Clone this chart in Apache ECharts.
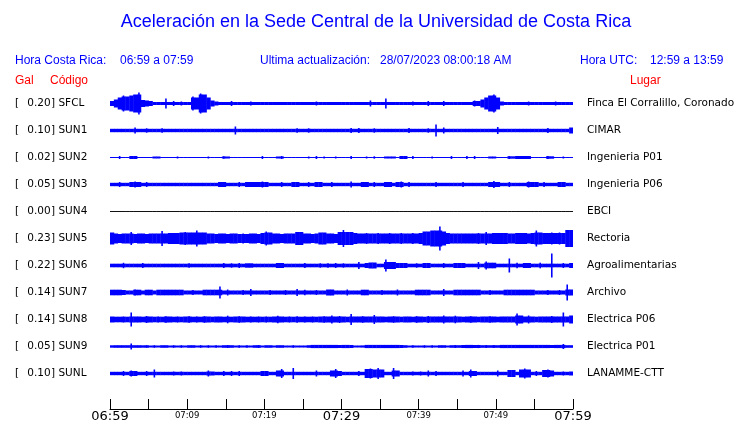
<!DOCTYPE html>
<html>
<head>
<meta charset="utf-8">
<script src="https://cdn.jsdelivr.net/npm/echarts@6/dist/echarts.min.js"></script>
<style>html,body{margin:0;padding:0;background:#fff}#c{width:740px;height:423px}</style>
</head>
<body>
<div id="c"></div>
<script>
// ---------- data ----------
const codes = ['SFCL','SUN1','SUN2','SUN3','SUN4','SUN5','SUN6','SUN7','SUN8','SUN9','SUNL'];
const galValues = ['0.20','0.10','0.02','0.05','0.00','0.23','0.22','0.14','0.14','0.05','0.10'];
const places = ['Finca El Corralillo, Coronado','CIMAR','Ingenieria P01','Ingenieria P06','EBCI','Rectoria','Agroalimentarias','Archivo','Electrica P06','Electrica P01','LANAMME-CTT'];
const tickLabels = ['06:59','','07:09','','07:19','','07:29','','07:39','','07:49','','07:59'];
const majorTicks = ['06:59','07:29','07:59'];

// envelope half-amplitudes, 120 bins of 30 s (06:59 -> 07:59)
const SFCL = [
2.5,4,6,8,7,8,9,11,3.5,3, 2.5,1.5,1.5,1.5,5,1.5,2.5,1.5,2,1.5,
1.5,7,6,10,9,6,3,2,1.5,1.5, 1.5,2.5,1.5,1.5,1.5,1.5,2,1.5,1.5,1.5,
1.5,1.5,1.5,1.5,1.5,1.5,1.5,1.5,1.5,1.5, 1.5,1.5,1.5,2,1.5,1.5,1.5,1.5,1.5,1.5,
1.5,1.5,1.5,1.5,1.5,1.5,1.5,3,1.5,1.5, 1.5,5,1.5,1.5,1.5,1.5,1.5,1.5,2,1.5,
1.5,1.5,2.5,1.5,1.5,1.5,2.5,1.5,1.5,1.5, 1.5,1.5,1.5,1.5,3,2.5,4,6,8,9,
6,2,1.5,1.5,1.5,1.5,1.5,1.5,2,1.5, 1.5,1.5,1.5,1.5,1.5,2,1.5,1.5,1.5,1.5];
const SUN1 = [
1.7,1.7,1.7,1.7,1.7,1.7,3,1.7,1.7,2.2, 1.7,1.7,1.7,2.2,1.7,1.7,1.7,1.7,1.7,1.7,
1.7,1.7,1.7,1.7,1.7,1.7,1.7,1.7,1.7,1.7, 1.7,1.7,4,1.7,1.7,1.7,1.7,1.7,1.7,1.7,
1.7,1.7,1.7,1.7,1.7,1.7,1.7,1.7,2.2,1.7, 1.7,2.2,1.7,1.7,1.7,1.7,1.7,1.7,1.7,1.7,
1.7,1.7,2.5,1.7,2.5,1.7,1.7,1.7,2.2,1.7, 1.7,1.7,1.7,1.7,1.7,1.7,1.7,2.5,1.7,1.7,
1.7,1.7,2.2,1.7,6,1.7,3,1.7,1.7,1.7, 1.7,1.7,1.7,1.7,1.7,1.7,1.7,1.7,1.7,1.7,
3.5,1.7,1.7,1.7,1.7,1.7,1.7,1.7,1.7,1.7, 1.7,1.7,1.7,2.5,1.7,1.7,1.7,1.7,1.7,3];
const SUN2 = [
.5,.5,1.5,.5,.5,1.5,1.5,.5,.5,.5, .5,1,1,.5,.5,.5,.5,1,.5,.5,
.5,.5,.5,.5,.5,1,.5,.5,.5,1.2, 1,.5,.5,.5,.5,.5,.5,.5,.5,1.5,
.5,.5,.5,1,1.5,.5,.5,.5,.5,.5, .5,1,.5,1.5,.5,1,.5,.5,1,.5,
.5,.5,1.5,.5,.5,.5,1,.5,1.2,.5, .5,1,1,1,.5,1.5,1.5,.5,1.5,.5,
.5,.5,.5,1,.5,.5,.5,.5,1.5,.5, .5,.5,1.5,.5,1.5,.5,.5,.5,1,1,
.5,.5,.5,1.5,1.2,1.5,1.5,1.5,1.5,.5, .5,.5,.5,1.5,1.2,.5,.5,1,.5,.5];
const SUN3 = [
1.7,1.7,2.5,1.7,1.7,2.5,3,2.5,1.7,2.5, 1.7,1.7,1.7,1.7,1.7,1.7,1.7,1.7,1.7,1.7,
1.7,1.7,1.7,1.7,1.7,1.7,1.7,1.7,2.5,2.5, 1.7,1.7,1.7,2.5,1.7,2.5,2.5,2.5,2.5,3,
2.5,1.7,1.7,1.7,2.5,1.7,1.7,2.5,2.5,1.7, 1.7,2.5,1.7,2.5,2.5,1.7,1.7,2.5,1.7,1.7,
1.7,1.7,3,1.7,1.7,2.5,2.5,1.7,2.5,1.7, 1.7,2.5,2.5,1.7,2.5,3,1.7,2.5,1.7,1.7,
1.7,1.7,1.7,1.7,2.5,1.7,1.7,1.7,1.7,1.7, 1.7,2.5,1.7,1.7,1.7,1.7,1.7,1.7,2.5,3.5,
2.5,1.7,1.7,2.5,1.7,1.7,1.7,1.7,3,2.5, 2.5,1.7,2.5,1.7,1.7,1.7,2.5,2.5,1.7,1.7];
const SUN4 = [
0,0,0,0,0,0,0,0,0,0, 0,0,0,0,0,0,0,0,0,0,
0,0,0,0,0,0,0,0,0,0, 0,0,0,0,0,0,0,0,0,0,
0,0,0,0,0,0,0,0,0,0, 0,0,0,0,0,0,0,0,0,0,
0,0,0,0,0,0,0,0,0,0, 0,0,0,0,0,0,0,0,0,0,
0,0,0,0,0,0,0,0,0,0, 0,0,0,0,0,0,0,0,0,0,
0,0,0,0,0,0,0,0,0,0, 0,0,0,0,0,0,0,0,0,0];
const SUN5 = [
6,5,4.5,5,5,6.5,4.5,5,5,4.5, 5,5,5,7.5,5,5.5,5.5,5.5,6,6.5,
6,6,8,6,6,5,5,4.5,5,5, 4.5,5,5,4.5,5,4.5,5,5,4.5,5.5,
7,6,5,5,4.5,5,5,5,6.5,6.5, 5,5,4.5,5,6,6,5,5,4.5,6.5,
8.5,6.5,6.5,5.5,5,5,5.5,5,5,5.5, 5,5,5.5,5,5,5.5,5,5,5.5,5,
5.5,7,7,8,8,12,7,5.5,5,5, 5,5,5,5,5,5.5,5,6.5,5,5.5,
5.5,5.5,5.5,5,5,5.5,5.5,5.5,5,5.5, 8,6,5.5,5.5,6,5.5,6,5.5,8.5,8.5];
const SUN6 = [
1.8,1.8,1.8,2.7,1.8,1.8,1.8,1.8,2.5,1.8, 1.8,1.8,1.8,1.8,1.8,1.8,1.8,1.8,1.8,1.8,
2.2,1.8,1.8,1.8,1.8,1.8,1.8,1.8,1.8,2.5, 1.8,2.2,1.8,2.5,1.8,2.2,2.2,1.8,1.8,1.8,
1.8,1.8,1.8,2.5,2.5,1.8,1.8,1.8,1.8,1.8, 2.5,1.8,1.8,1.8,2.2,1.8,2.2,1.8,2.5,1.8,
2.2,1.8,1.8,1.8,3.5,1.8,2.5,3,3,1.8, 1.8,6,3.5,3.5,2.5,2.5,2.5,1.8,1.8,2.2,
1.8,2.5,2.5,1.8,1.8,1.8,2.5,1.8,1.8,2.5, 2.5,2.5,1.8,1.8,1.8,3.5,1.8,4,2.8,2.8,
1.8,1.8,1.8,7,1.8,2.8,1.8,2.5,2.5,1.8, 1.8,2.8,1.8,1.8,12,1.8,1.8,2.5,1.8,2.5];
const SUN7 = [
2.8,2.8,2.8,2.5,2,2,3,2.8,2,2.8, 2.8,2,2.8,2.8,2.8,2.8,2.8,2.8,2.8,2,
2,2.5,2,2,2.8,2.8,2.8,2.8,6,2, 3,2,2,2,2.5,2,3.5,2,2,2,
2,2.5,2,2,2,2.5,2,2,3.5,2, 2.8,2,2,2.5,2,2,3,3,2,2,
2,3,2,2,2,2.8,2.8,2,2,2, 2.5,2,2,2,3,2,2,2,2,2.8,
2.8,2.8,2.8,2,2,2,3.5,2,2,2.8, 2.8,2.8,2.8,2.8,2.8,2.8,2,2,2.5,2,
2,2,2.8,2.8,2.8,2.8,2.8,2.8,2.8,2.8, 2,2,2,2.5,2,2,2.5,2,8,3];
const SUN8 = [
3,2.8,2.8,3,2.8,7,3,3,2.8,3.5, 3,2.8,3,2.8,3.3,3,2.8,3,2.8,3,
3.3,2.8,3,2.8,3.3,3,2.8,3,3,2.8, 3.8,2.8,3,3.3,3,2.8,3,2.8,3,2.8,
3,2.8,3,3.8,3,2.8,3,2.8,3.3,2.8, 3,2.8,3,2.8,3,3.3,3,4,3,3.5,
3,2.8,5.5,3,3,3.3,3,3,4.5,3, 3,2.8,3,3.3,3,2.8,3,3,2.8,3.3,
3,2.8,3.5,3,3,3,4,3,3,3.8, 3,2.8,3,3.3,3,2.8,3,3,3.3,3,
2.8,3,3,3,3,6,4,3,4,3, 2.8,3,3,3,3.5,3,3,7,3,4];
const SUN9 = [
1.2,1.3,1.3,1.3,1.3,3,1.3,1.3,1.2,1.3, 1,1.3,1,1.3,1.3,1,1.3,1,1.3,1,
1.3,1.3,1,1.3,1,1.3,1,1.3,1,1.3, 1.5,1.3,1,1.3,1,1.3,1,1.3,1.5,1,
1.3,1.3,1,1.3,1.3,1,1,1.3,1,1, 1,1.3,1.6,1.6,1.6,1.6,1.6,1.6,1.6,1.5,
1.6,1.6,1.5,1,1,1.1,1.6,1.6,1.6,1.6, 1.6,1.6,1.6,1.6,1.6,1.5,1.3,1,1.3,1,
1,1.3,1,1.3,1,1.3,1.3,1,1.3,1.5, 1.3,1.5,1.6,1.6,1.5,1.6,1.3,1.5,1.3,1.5,
1.3,1.6,1.6,1.6,1.6,1.6,1.6,1.6,1.6,1.6, 1.6,1.6,1.6,1.6,1.5,1.6,1.6,2.5,1.3,1.3];
const SUNL = [
1.7,1.7,1.7,2.5,1.7,3,2.5,1.7,1.7,2.5, 1.7,4,1.7,1.7,1.7,1.7,2,1.7,2,1.7,
1.7,1.7,1.7,1.7,1.7,3,2,1.7,1.7,2.5, 1.7,2.5,1.7,2.5,1.7,1.7,1.7,1.7,1.7,2.5,
2.5,1.7,1.7,3,4.5,1.7,1.7,5.5,1.7,1.7, 1.7,1.7,1.7,3,1.7,1.7,1.7,3,4.5,2.5,
1.7,1.7,1.7,1.7,2.5,1.7,4.5,5,4,5.5, 4,1.7,1.7,5.5,3,1.7,1.7,1.7,2,1.7,
2,1.7,3,1.7,2.5,1.7,1.7,1.7,1.7,1.7, 1.7,3,1.7,4,2.5,1.7,1.7,1.7,1.7,1.7,
3,1.7,1.7,3.5,3.5,1.7,4,5,4,1.7, 2.5,1.7,3.5,4,3,1.7,1.7,2,1.7,2];
const traces = [SFCL,SUN1,SUN2,SUN3,SUN4,SUN5,SUN6,SUN7,SUN8,SUN9,SUNL];

// ---------- chart ----------
const ROW = 27;          // y-axis units per station row
const SPAN_MIN = 60;     // minutes shown
const BLUE = '#0000ff';

const chart = echarts.init(document.getElementById('c'), null, {renderer: 'canvas'});

function vRect(x, w, yA, yB, fill) {
  let y0 = Math.min(yA, yB), h = Math.abs(yB - yA);
  if (h < 1) { y0 = (yA + yB) / 2 - 0.5; h = 1; }
  return {type: 'rect', shape: {x: x, y: y0, width: w, height: h}, style: {fill: fill}};
}

const series = traces.map((amps, i) => {
  const binW = SPAN_MIN / amps.length;
  const flat = amps.every(v => v === 0);
  const fill = flat ? '#111' : BLUE;
  return {
    type: 'custom',
    name: codes[i],
    xAxisIndex: 0,
    yAxisIndex: 0,
    silent: true,
    animation: false,
    clip: true,
    data: amps.map((a, k) => [k * binW, a, i * ROW, binW]),
    renderItem: function (params, api) {
      const k = params.dataIndex;
      const t = api.value(0), a = api.value(1), c = api.value(2), w = api.value(3);
      const prev = k > 0 ? amps[k - 1] : a;
      const next = k < amps.length - 1 ? amps[k + 1] : a;
      const base = Math.min(a, Math.max(prev, next));
      const b0 = api.coord([t, c - base]);
      const b1 = api.coord([t + w, c + base]);
      const children = [vRect(b0[0], b1[0] - b0[0] + 0.4, b0[1], b1[1], fill)];
      if (a > base) {
        const s0 = api.coord([t + w / 2, c - a]);
        const s1 = api.coord([t + w / 2, c + a]);
        children.push(vRect(s0[0] - 0.8, 1.6, s0[1], s1[1], fill));
      }
      return {type: 'group', children: children};
    }
  };
});

const headerFont = '12px "Liberation Sans", Arial, sans-serif';
const graphic = [
  {type:'text', x:376, y:22, style:{text:'Aceleración en la Sede Central de la Universidad de Costa Rica', font:'18px "Liberation Sans", Arial, sans-serif', fill:BLUE, align:'center', verticalAlign:'middle'}},
  {type:'text', x:15, y:61, style:{text:'Hora Costa Rica:', font:headerFont, fill:BLUE, verticalAlign:'middle'}},
  {type:'text', x:120, y:61, style:{text:'06:59 a 07:59', font:headerFont, fill:BLUE, verticalAlign:'middle'}},
  {type:'text', x:260, y:61, style:{text:'Ultima actualización:', font:headerFont, fill:BLUE, verticalAlign:'middle'}},
  {type:'text', x:380, y:61, style:{text:'28/07/2023 08:00:18 AM', font:headerFont, fill:BLUE, verticalAlign:'middle'}},
  {type:'text', x:580, y:61, style:{text:'Hora UTC:', font:headerFont, fill:BLUE, verticalAlign:'middle'}},
  {type:'text', x:650, y:61, style:{text:'12:59 a 13:59', font:headerFont, fill:BLUE, verticalAlign:'middle'}},
  {type:'text', x:15, y:81, style:{text:'Gal', font:headerFont, fill:'#ff0000', verticalAlign:'middle'}},
  {type:'text', x:50, y:81, style:{text:'Código', font:headerFont, fill:'#ff0000', verticalAlign:'middle'}},
  {type:'text', x:630, y:81, style:{text:'Lugar', font:headerFont, fill:'#ff0000', verticalAlign:'middle'}}
];

const labelFont = 'DejaVu Sans';
const option = {
  animation: false,
  backgroundColor: '#fff',
  grid: {left: 110, right: 167, top: 90, height: 297, containLabel: false},
  graphic: graphic,
  xAxis: {
    type: 'value', min: 0, max: SPAN_MIN, interval: 5,
    position: 'bottom', offset: 22,
    axisLine: {show: true, onZero: false, lineStyle: {color: '#000', width: 1}},
    axisTick: {show: true, inside: true, length: 10, lineStyle: {color: '#000', width: 1}},
    splitLine: {show: false},
    axisLabel: {
      show: true, margin: 1, color: '#000', fontFamily: labelFont,
      formatter: function (v) {
        const s = tickLabels[Math.round(v / 5)];
        if (!s) return '';
        return majorTicks.indexOf(s) >= 0 ? '{big|' + s + '}' : '{small|' + s + '}';
      },
      rich: {
        big: {fontSize: 13, fontFamily: labelFont, color: '#000'},
        small: {fontSize: 8.5, fontFamily: labelFont, color: '#000', padding: [1, 0, 0, 0]}
      }
    }
  },
  yAxis: [
    {type: 'value', min: -ROW / 2, max: ROW * (codes.length - 0.5), inverse: true, show: false},
    {
      type: 'category', position: 'left', inverse: true, data: codes.map((c, i) => galValues[i] + '|' + c),
      axisLine: {show: false}, axisTick: {show: false}, splitLine: {show: false},
      axisLabel: {
        interval: 0, align: 'left', margin: 95, color: '#000', fontFamily: labelFont, fontSize: 10.5,
        formatter: function (v) {
          const p = v.split('|');
          return '{b|[}{v|' + p[0] + '}{c|] ' + p[1] + '}';
        },
        rich: {
          b: {width: 12, align: 'left', fontSize: 10.5, fontFamily: labelFont, color: '#000'},
          v: {width: 24, align: 'right', fontSize: 10.5, fontFamily: labelFont, color: '#000'},
          c: {fontSize: 10.5, fontFamily: labelFont, color: '#000'}
        }
      }
    },
    {
      type: 'category', position: 'right', inverse: true, data: places,
      axisLine: {show: false}, axisTick: {show: false}, splitLine: {show: false},
      axisLabel: {interval: 0, margin: 14, color: '#000', fontFamily: labelFont, fontSize: 10.5}
    }
  ],
  series: series
};
chart.setOption(option);
</script>
</body>
</html>
